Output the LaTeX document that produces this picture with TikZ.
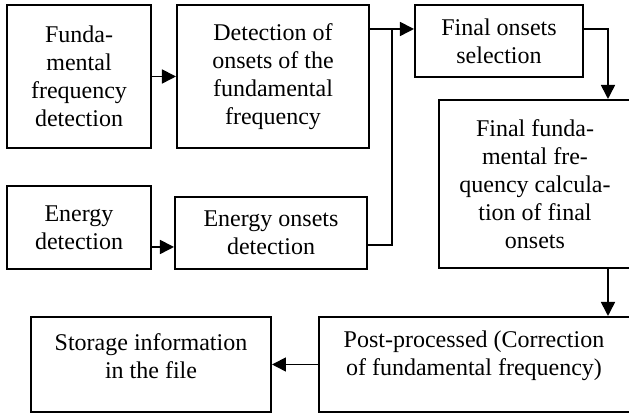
\documentclass[tikz,border=0pt]{standalone}
\usepackage{fontspec}
\setmainfont{Liberation Serif}
\usepackage{tikz}
\usetikzlibrary{arrows.meta, positioning, calc}

\begin{document}
\begin{tikzpicture}[x=0.5pt, y=-0.5pt, >={Triangle[length=7pt,width=7pt]},
    every node/.style={font=\fontsize{12}{14}\selectfont},
    block/.style={draw, rectangle, line width=1pt, align=center, inner sep=2pt},
    link/.style={line width=0.8pt}]
        \useasboundingbox (0,0) rectangle (629,415);
        \clip (0,0) rectangle (629,415);
        % top row
        \node[block, minimum width=72pt, minimum height=71.5pt] (fund) at (79,76.5) {Funda-\\mental\\frequency\\detection};
        \node[block, minimum width=96pt, minimum height=71.5pt, right=12pt of fund] (onsetf) {Detection of\\onsets of the\\fundamental\\frequency};
        \node[block, minimum width=84pt, minimum height=36pt] (finalsel) at (499,41) {Final onsets\\selection};
        \node[block, minimum width=96pt, minimum height=84pt] (finalf) at (535,184) {Final funda-\\mental fre-\\quency calcula-\\tion of final\\onsets};
        % energy row
        \node[block, minimum width=72pt, minimum height=41.5pt] (energy) at (79,227.5) {Energy\\detection};
        \node[block, minimum width=96pt, minimum height=36pt] (onsete) at (271,233) {Energy onsets\\detection};
        % bottom row
        \node[block, minimum width=120pt, minimum height=47.5pt] (storage) at (151,364.5) {};
        \node[align=center] (storagetxt) at (storage.center |- 0,356) {Storage information\\in the file};
        \node[block, minimum width=156pt, minimum height=47.5pt] (post) at (475.5,364.5) {};
        \node[align=center] (posttxt) at (474,356) {Post-processed (Correction\\of fundamental frequency)};
        % connectors
        \coordinate (jn) at (392,29);
        \coordinate (rt) at (608,29);
        \draw[link, ->] (fund) -- (onsetf);
        \draw[link, ->] ($(energy.south east)+(0,-23)$) -- ($(onsete.south west)+(0,-23)$);
        \draw[link, ->] (onsetf.east |- jn) -- (finalsel.west |- jn);
        \draw[link] ($(onsete.south east)+(0,-25)$) -| (jn);
        \draw[link, ->] (finalsel.east |- rt) -| (finalf.north -| rt);
        \draw[link, ->] (finalf.south -| rt) -- (post.north -| rt);
        \draw[link, ->] (post) -- (storage);
\end{tikzpicture}
\end{document}
